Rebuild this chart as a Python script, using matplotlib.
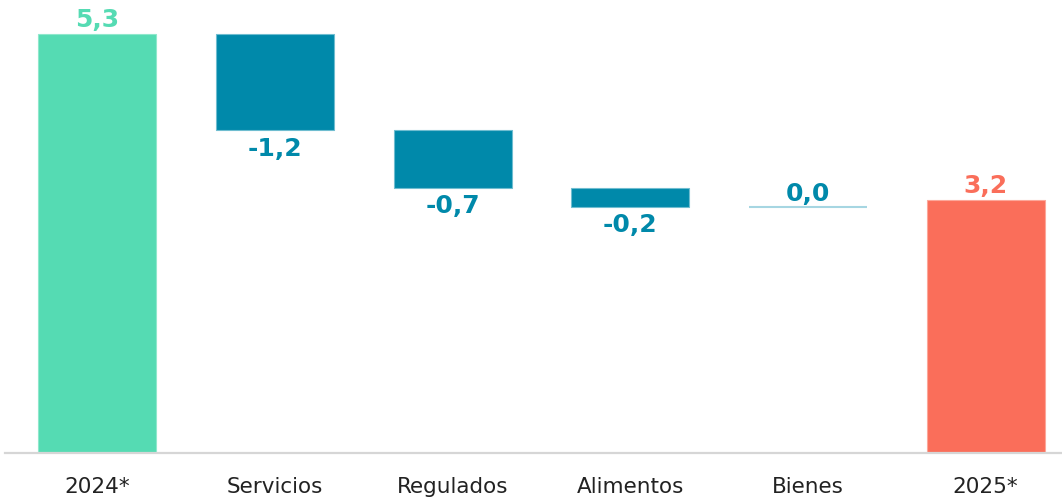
import matplotlib
matplotlib.use("Agg")
import matplotlib.pyplot as plt
import numpy as np

categories = ["2024*", "Servicios", "Regulados", "Alimentos", "Bienes", "2025*"]
start_value = 5.3
changes = [-1.22, -0.73, -0.24, 0.0]
end_value = 3.2

green = "#55DBB3"
teal = "#0089AA"
red = "#FA6E5A"

plt.rcParams['font.family'] = ['DejaVu Sans']

fig = plt.figure(figsize=(10.62, 5.0), dpi=100)
ax = fig.add_axes([5/1062, 47/500, 1 - 5/1062, 453/500])

x = np.arange(len(categories))
w = 0.665
lab_fs = 18

# Start bar
ax.bar(x[0], start_value, width=w, color=green, edgecolor="#8fe8cc", linewidth=0.8)
ax.text(x[0], start_value + 0.02, f"{start_value:.1f}".replace(".", ","),
        ha="center", va="bottom", fontsize=lab_fs, fontweight="bold", color=green)

level = start_value
for i, c in enumerate(changes):
    xi = x[i + 1]
    if c == 0:
        ax.plot([xi - w/2, xi + w/2], [level, level], color="#a6d6e2", lw=1.5,
                solid_capstyle="butt")
        ax.text(xi, level + 0.02, f"{abs(c):.1f}".replace(".", ","),
                ha="center", va="bottom", fontsize=lab_fs, fontweight="bold", color=teal)
    else:
        ax.bar(xi, c, bottom=level, width=w, color=teal, edgecolor="#6fbdd0", linewidth=0.8)
        level = level + c
        ax.text(xi, level - 0.08, f"{c:.1f}".replace(".", ","),
                ha="center", va="top", fontsize=lab_fs, fontweight="bold", color=teal)

ax.bar(x[-1], end_value, width=w, color=red, edgecolor="#fca79a", linewidth=0.8)
ax.text(x[-1], end_value + 0.02, f"{end_value:.1f}".replace(".", ","),
        ha="center", va="bottom", fontsize=lab_fs, fontweight="bold", color=red)

ax.set_xlim(-0.52, 5.43)
ax.set_ylim(0, 5.73)
ax.set_xticks(x)
ax.set_xticklabels(categories, fontsize=15.5, color="#222222")
ax.tick_params(axis="x", length=0, pad=17)
ax.set_yticks([])
for s in ["top", "right", "left"]:
    ax.spines[s].set_visible(False)
ax.spines["bottom"].set_color("#d6d6d6")
ax.spines["bottom"].set_linewidth(1.6)

fig.savefig("out.png", dpi=100)
